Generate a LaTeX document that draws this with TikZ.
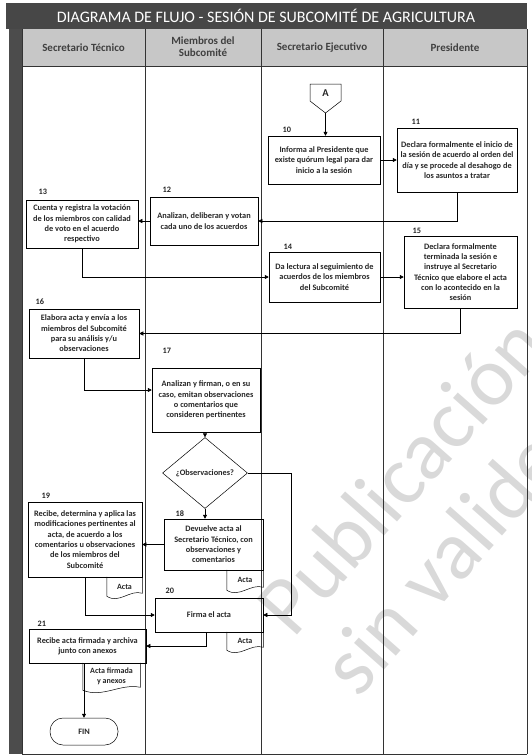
\documentclass[tikz,border=0pt]{standalone}
\usepackage{fontspec}
\setmainfont{Carlito}
\usetikzlibrary{arrows.meta,shapes.geometric,calc}

% document symbol drawn round a named node
\newcommand{\docwave}[1]{%
  \draw (#1.north west) -- (#1.south west)
    .. controls ($(#1.south west)!0.35!(#1.south east)+(0,8)$) and ($(#1.south west)!0.65!(#1.south east)+(0,-7)$) .. ($(#1.south east)+(0,-3)$)
    -- (#1.north east);}

\begin{document}
\begin{tikzpicture}[x=1pt, y=-1pt, line width=0.5pt,
	every node/.style={font=\fontsize{8.3}{10.3}\selectfont\bfseries, text=black!85},
	box/.style={draw, align=center, inner sep=1pt},
	num/.style={anchor=base west},
	doc/.style={align=center, inner sep=0pt, font=\fontsize{8}{9.6}\selectfont\bfseries},
	arr/.style={-{Triangle[length=4pt,width=4pt]}},
	wmtext/.style={font=\fontsize{84}{84}\selectfont, text=black!15, anchor=base west, rotate=48.5},
	lanehead/.style={align=center, font=\fontsize{11}{12}\selectfont\bfseries, text=black!75}]
	\useasboundingbox (0,0) rectangle (531,756);
	% watermark
	\begin{scope}
		\clip (0,0) rectangle (531,756);
		\node[wmtext] (wm1) at (291,642) {Publicación};
		\node[wmtext] (wm2) at (356,702) {sin validez};
	\end{scope}
	% title and lane heads
	\fill[black!72] (6,3) rectangle (527,29);
	\fill[black!70] (9,29) rectangle (22,754);
	\fill[black!22] (22,29) rectangle (527,66);
	\node[font=\fontsize{16}{17}\selectfont, text=white] (title) at (266,16) {DIAGRAMA DE FLUJO - SESIÓN DE SUBCOMITÉ DE AGRICULTURA};
	\node[lanehead] (h1) at (83.5,48) {Secretario Técnico};
	\node[lanehead] (h2) at (203,47) {Miembros del\\Subcomité};
	\node[lanehead] (h3) at (322,48) {Secretario Ejecutivo};
	\node[lanehead] (h4) at (455,48) {Presidente};
	\foreach \x in {22,145,261,383,527} {\draw[black!80] (\x,29) -- (\x,754);}
	\draw[black!80] (22,66) -- (527,66);
	\draw[black!80] (22,754) -- (527,754);
	% connector A
	\node[font=\fontsize{10.5}{11}\selectfont\bfseries] (A) at (325.5,93) {A};
	\draw ($(A)+(-15.5,-9)$) -- ($(A)+(15.5,-9)$) -- ($(A)+(15.5,8)$) -- ($(A)+(0,20)$) -- ($(A)+(-15.5,8)$) -- cycle;
	\coordinate (Atip) at ($(A)+(0,20)$);
	% steps 10 - 15
	\node[box, minimum width=112, minimum height=48] (b10) at (324,160) {Informa al Presidente que\\existe quórum legal para dar\\inicio a la sesión};
	\node[num] (n10) at (279,132) {10};
	\node[box, minimum width=120, minimum height=64] (b11) at (457,160) {Declara formalmente el inicio de\\la sesión de acuerdo al orden del\\día y se procede al desahogo de\\los asuntos a tratar};
	\node[num] (n11) at (408,124) {11};
	\node[box, minimum width=108, minimum height=48] (b12) at (204,221) {Analizan, deliberan y votan\\cada uno de los acuerdos};
	\node[num] (n12) at (159,192) {12};
	\node[box, minimum width=112, minimum height=48] (b13) at (82,224) {Cuenta y registra la votación\\de los miembros con calidad\\de voto en el acuerdo\\respectivo};
	\node[num] (n13) at (35,194) {13};
	\node[box, minimum width=111, minimum height=50] (b14) at (324.5,277) {Da lectura al seguimiento de\\acuerdos de los miembros\\del Subcomité};
	\node[num] (n14) at (280,249) {14};
	\node[box, minimum width=113, minimum height=72] (b15) at (460.5,272) {Declara formalmente\\terminada la sesión e\\instruye al Secretario\\Técnico que elabore el acta\\con lo acontecido en la\\sesión};
	\node[num] (n15) at (409,233) {15};
	% steps 16 - 19
	\node[box, minimum width=110, minimum height=49] (b16) at (84,333.5) {Elabora acta y envía a los\\miembros del Subcomité\\para su análisis y/u\\observaciones};
	\node[num] (n16) at (32,304) {16};
	\node[box, minimum width=108, minimum height=64] (b17) at (206,400) {Analizan y firman, o en su\\caso, emitan observaciones\\o comentarios que\\consideren pertinentes};
	\node[num] (n17) at (159,353) {17};
	\node[draw, diamond, aspect=1.2, inner sep=0pt, minimum width=85, minimum height=71] (dia) at (205,473) {¿Observaciones?};
	\node[box, minimum width=99, minimum height=51] (b18) at (213.5,544.5) {Devuelve acta al\\Secretario Técnico, con\\observaciones y\\comentarios};
	\node[num] (n18) at (172,516) {18};
	\node[doc, minimum width=36, minimum height=20] (d18) at (245,580) {Acta};
	\docwave{d18}
	\node[box, minimum width=114, minimum height=75] (b19) at (85,539.5) {Recibe, determina y aplica las\\modificaciones pertinentes al\\acta, de acuerdo a los\\comentarios u observaciones\\de los miembros del\\Subcomité};
	\node[num] (n19) at (38,498) {19};
	\node[doc, minimum width=35, minimum height=19] (d19) at (124.5,586.5) {Acta};
	\docwave{d19}
	% steps 20 - 21
	\node[box, minimum width=108, minimum height=34] (b20) at (209,615) {Firma el acta};
	\node[num] (n20) at (162,593) {20};
	\node[doc, minimum width=36, minimum height=18] (d20) at (245,641) {Acta};
	\docwave{d20}
	\node[box, minimum width=117, minimum height=34] (b21) at (87.5,646) {Recibe acta firmada y archiva\\junto con anexos};
	\node[num] (n21) at (34,626) {21};
	\node[doc, minimum width=57, minimum height=27] (d21) at (111.5,676.5) {Acta firmada\\y anexos};
	\docwave{d21}
	\node[draw, rounded corners=13pt, minimum width=68, minimum height=27] (fin) at (84,731.5) {FIN};
	% flow
	\draw[arr] (Atip) -- (Atip |- b10.north);
	\draw[arr] (b10.east) -- (b10.east -| b11.west);
	\draw[arr] (b11.south) |- (b12.east);
	\draw[arr] (b12.west) -- (b12.west -| b13.east);
	\draw[arr] (b13.south) |- (b14.west);
	\draw[arr] (b14.east) -- (b14.east -| b15.west);
	\draw[arr] (b15.south) |- (b16.east);
	\draw[arr] (b16.south) |- ([yshift=10pt]b17.west);
	\draw[arr] (b17.south -| dia.north) -- (dia.north);
	\draw[arr] (dia.south) -- (dia.south |- b18.north);
	\draw[arr] (b18.west) -- (b18.west -| b19.east);
	\draw[arr] (dia.east) -- ++(43,0) |- (b20.east);
	\draw[arr] (b19.south) |- (b20.west);
	\draw[arr] ([xshift=-3pt]b20.south) |- (b21.east);
	\draw[arr] (b21.south -| fin.north) -- (fin.north);
\end{tikzpicture}
\end{document}
